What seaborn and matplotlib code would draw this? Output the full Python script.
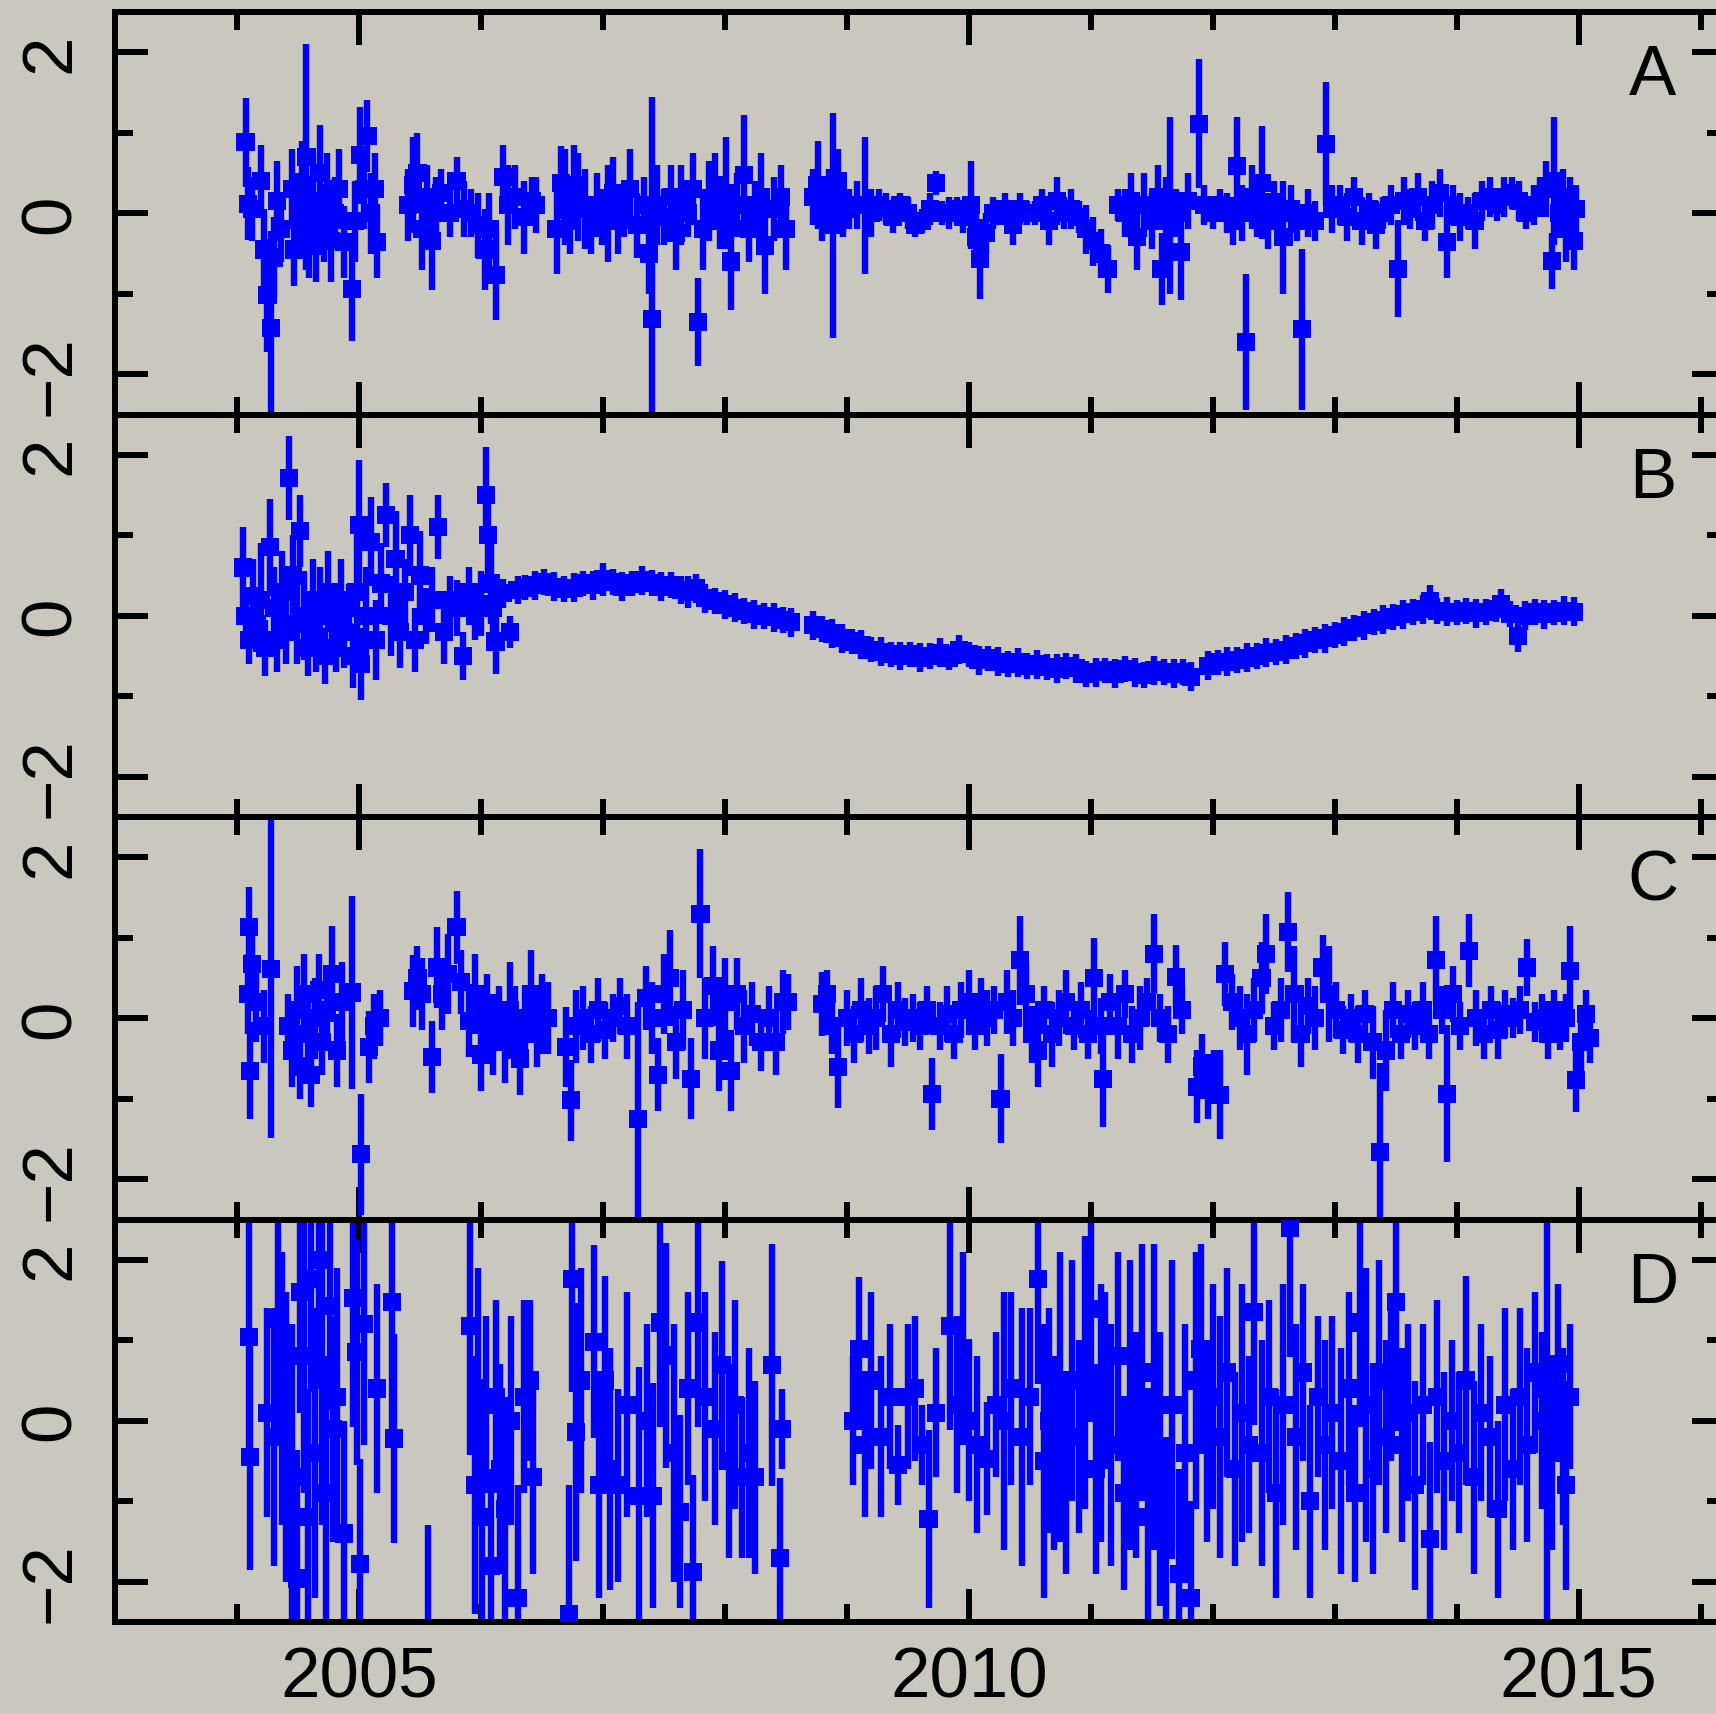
import pandas as pd
import matplotlib
matplotlib.use("Agg")
import matplotlib.pyplot as plt
from matplotlib.ticker import MultipleLocator
import seaborn as sns

# (year, value, error)
panel_a = [
    (2004.07, 0.88, 0.55), (2004.09, 0.12, 0.45), (2004.12, 0.05, 0.4), (2004.20, 0.40, 0.45),
    (2004.22, -0.45, 0.5), (2004.25, -1.02, 0.7), (2004.28, -1.42, 1.2), (2004.30, -0.55, 0.5),
    (2004.33, 0.15, 0.5), (2004.36, -0.2, 0.4), (2004.45, 0.30, 0.5), (2004.47, -0.45, 0.45),
    (2004.50, 0.0, 0.5), (2004.53, 0.35, 0.55), (2004.57, 0.70, 1.4), (2004.59, -0.3, 0.5),
    (2004.62, 0.15, 0.6), (2004.65, -0.4, 0.45), (2004.68, 0.5, 0.6), (2004.71, -0.2, 0.4),
    (2004.74, 0.25, 0.5), (2004.77, -0.35, 0.5), (2004.80, 0.0, 0.45), (2004.84, 0.3, 0.5),
    (2004.88, -0.36, 0.45), (2004.94, -0.94, 0.65), (2004.97, -0.1, 0.5), (2005.01, 0.72, 0.6),
    (2005.04, 0.3, 0.5), (2005.07, 0.96, 0.45), (2005.10, 0.0, 0.5), (2005.13, 0.30, 0.45),
    (2005.15, -0.36, 0.45),
    (2005.40, 0.1, 0.45), (2005.44, 0.35, 0.6), (2005.48, 0.5, 0.5), (2005.52, -0.2, 0.5),
    (2005.56, 0.2, 0.4), (2005.60, -0.35, 0.6), (2005.63, 0.0, 0.45), (2005.67, 0.25, 0.3),
    (2005.75, 0.0, 0.3), (2005.80, 0.4, 0.3), (2005.86, 0.05, 0.35), (2005.92, 0.0, 0.3),
    (2005.98, -0.15, 0.4), (2006.03, -0.45, 0.5), (2006.07, -0.2, 0.45), (2006.12, -0.77, 0.55),
    (2006.18, 0.45, 0.4), (2006.22, 0.1, 0.5), (2006.28, 0.2, 0.4), (2006.35, -0.05, 0.45),
    (2006.42, 0.15, 0.3), (2006.45, 0.1, 0.35),
    (2006.62, -0.2, 0.55), (2006.66, 0.38, 0.45), (2006.69, 0.2, 0.6), (2006.73, -0.1, 0.4),
    (2006.76, 0.35, 0.5), (2006.80, 0.2, 0.55), (2006.85, 0.05, 0.5), (2006.90, -0.15, 0.35),
    (2006.95, 0.1, 0.4), (2006.99, -0.05, 0.35), (2007.04, 0.0, 0.6), (2007.08, 0.25, 0.45),
    (2007.12, -0.1, 0.4), (2007.17, 0.0, 0.3), (2007.22, 0.3, 0.5), (2007.28, -0.15, 0.4),
    (2007.34, 0.1, 0.35), (2007.38, -0.5, 0.5), (2007.40, -1.31, 2.75), (2007.44, 0.1, 0.5),
    (2007.50, -0.05, 0.35), (2007.56, 0.2, 0.4), (2007.60, -0.25, 0.45), (2007.64, 0.1, 0.5),
    (2007.70, 0.0, 0.3), (2007.74, 0.3, 0.45), (2007.78, -1.35, 0.55), (2007.82, -0.2, 0.5),
    (2007.87, 0.15, 0.5), (2007.92, 0.35, 0.4), (2007.96, -0.1, 0.35), (2008.01, 0.25, 0.7),
    (2008.05, -0.6, 0.6), (2008.10, 0.1, 0.4), (2008.16, 0.47, 0.75), (2008.20, -0.2, 0.4),
    (2008.25, 0.1, 0.3), (2008.30, 0.2, 0.55), (2008.33, -0.4, 0.6), (2008.40, 0.05, 0.4),
    (2008.46, 0.2, 0.4), (2008.50, -0.2, 0.5),
    (2008.72, 0.2, 0.35), (2008.76, 0.35, 0.55), (2008.80, 0.05, 0.4), (2008.85, 0.15, 0.4),
    (2008.89, -0.15, 1.4), (2008.93, 0.4, 0.4), (2008.97, 0.0, 0.3), (2009.02, 0.05, 0.25),
    (2009.08, 0.1, 0.3), (2009.15, 0.1, 0.85), (2009.20, 0.0, 0.3), (2009.26, 0.1, 0.2),
    (2009.32, 0.05, 0.2), (2009.38, -0.05, 0.2), (2009.44, 0.1, 0.15), (2009.50, 0.0, 0.2),
    (2009.56, -0.15, 0.15), (2009.62, -0.1, 0.15), (2009.68, 0.05, 0.2), (2009.73, 0.38, 0.15),
    (2009.78, 0.0, 0.15), (2009.84, 0.0, 0.2), (2009.90, 0.05, 0.15), (2009.95, -0.05, 0.2),
    (2010.02, 0.1, 0.55), (2010.06, -0.3, 0.3), (2010.09, -0.57, 0.5), (2010.14, -0.25, 0.25),
    (2010.20, 0.0, 0.2), (2010.25, 0.0, 0.15), (2010.30, 0.05, 0.2), (2010.36, -0.15, 0.25),
    (2010.42, 0.05, 0.2), (2010.48, 0.0, 0.15), (2010.54, 0.0, 0.15), (2010.60, 0.1, 0.2),
    (2010.66, -0.1, 0.3), (2010.72, 0.15, 0.3), (2010.78, 0.0, 0.2), (2010.84, 0.05, 0.25),
    (2010.90, -0.05, 0.2), (2010.96, -0.2, 0.3), (2011.02, -0.35, 0.3), (2011.08, -0.5, 0.3),
    (2011.14, -0.69, 0.3),
    (2011.22, 0.1, 0.2), (2011.28, 0.0, 0.3), (2011.33, 0.15, 0.35), (2011.38, -0.3, 0.4),
    (2011.44, 0.1, 0.4), (2011.50, -0.1, 0.35), (2011.55, 0.2, 0.4), (2011.58, -0.69, 0.45),
    (2011.62, -0.1, 0.55), (2011.65, 0.1, 1.1), (2011.70, 0.0, 0.3), (2011.74, -0.48, 0.6),
    (2011.80, 0.15, 0.35), (2011.89, 1.11, 0.8), (2011.93, 0.1, 0.25), (2012.00, 0.0, 0.2),
    (2012.06, 0.1, 0.2), (2012.12, 0.0, 0.25), (2012.17, -0.1, 0.3), (2012.20, 0.59, 0.6),
    (2012.24, 0.0, 0.35), (2012.27, -1.6, 0.85), (2012.32, 0.2, 0.4), (2012.36, 0.0, 0.3),
    (2012.40, 0.38, 0.7), (2012.45, -0.1, 0.35), (2012.50, 0.1, 0.3), (2012.55, 0.0, 0.25),
    (2012.58, -0.3, 0.7), (2012.64, 0.05, 0.3), (2012.69, -0.1, 0.25), (2012.73, -1.44, 1.0),
    (2012.78, 0.0, 0.3), (2012.84, -0.1, 0.25), (2012.93, 0.86, 0.77), (2012.98, 0.05, 0.3),
    (2013.04, 0.1, 0.25), (2013.10, -0.05, 0.3), (2013.16, 0.2, 0.25), (2013.22, -0.1, 0.3),
    (2013.28, 0.05, 0.2), (2013.34, -0.15, 0.3), (2013.40, 0.0, 0.2), (2013.46, 0.1, 0.25),
    (2013.52, -0.69, 0.6), (2013.57, 0.15, 0.3), (2013.62, 0.05, 0.25), (2013.68, 0.2, 0.3),
    (2013.74, -0.1, 0.25), (2013.80, 0.1, 0.3), (2013.86, 0.25, 0.3), (2013.92, -0.36, 0.45),
    (2013.97, 0.1, 0.25), (2014.03, -0.05, 0.3), (2014.09, 0.0, 0.2), (2014.15, -0.1, 0.35),
    (2014.21, 0.15, 0.25), (2014.27, 0.2, 0.25), (2014.33, 0.1, 0.2), (2014.39, 0.2, 0.25),
    (2014.45, 0.25, 0.2), (2014.51, 0.15, 0.25), (2014.57, 0.0, 0.2), (2014.63, 0.1, 0.25),
    (2014.68, 0.2, 0.25), (2014.73, 0.3, 0.35), (2014.78, -0.59, 0.35), (2014.80, 0.4, 0.8),
    (2014.84, 0.0, 0.3), (2014.87, 0.2, 0.35), (2014.90, -0.2, 0.4), (2014.93, 0.1, 0.35),
    (2014.96, -0.35, 0.35), (2014.98, 0.05, 0.3),
]

panel_b = [
    (2004.05, 0.6, 0.5), (2004.07, 0.0, 0.35), (2004.10, -0.3, 0.3), (2004.13, 0.25, 0.45),
    (2004.16, -0.1, 0.35), (2004.20, 0.2, 0.7), (2004.23, -0.4, 0.35), (2004.27, 0.85, 0.6),
    (2004.30, 0.1, 0.5), (2004.33, -0.3, 0.4), (2004.37, 0.3, 0.5), (2004.40, -0.2, 0.4),
    (2004.43, 1.71, 0.52), (2004.46, 0.5, 0.5), (2004.49, -0.1, 0.5), (2004.52, 1.05, 0.45),
    (2004.55, 0.0, 0.55), (2004.58, -0.4, 0.35), (2004.62, 0.2, 0.5), (2004.65, -0.3, 0.4),
    (2004.68, 0.15, 0.45), (2004.72, -0.5, 0.35), (2004.75, 0.3, 0.5), (2004.78, 0.0, 0.4),
    (2004.81, -0.4, 0.3), (2004.85, 0.2, 0.5), (2004.88, -0.2, 0.45), (2004.92, 0.1, 0.3),
    (2004.95, -0.5, 0.4), (2004.98, 0.3, 0.8), (2005.00, 1.13, 0.8), (2005.02, -0.6, 0.45),
    (2005.06, 0.0, 0.6), (2005.10, 0.92, 0.55), (2005.14, -0.3, 0.5), (2005.18, 0.4, 0.5),
    (2005.22, 1.25, 0.4), (2005.26, 0.0, 0.5), (2005.30, 0.7, 0.6), (2005.34, -0.2, 0.45),
    (2005.38, 0.3, 0.4), (2005.42, 1.0, 0.5), (2005.46, -0.3, 0.4), (2005.50, 0.5, 0.55),
    (2005.55, 0.0, 0.35), (2005.60, 0.2, 0.4), (2005.65, 1.1, 0.4), (2005.70, -0.2, 0.4),
    (2005.75, 0.2, 0.3), (2005.80, 0.1, 0.35), (2005.85, -0.5, 0.3), (2005.90, 0.3, 0.3),
    (2005.95, 0.0, 0.3), (2006.00, 0.15, 0.4), (2006.04, 1.5, 0.6), (2006.06, 1.0, 0.5),
    (2006.08, 0.4, 0.5), (2006.10, 0.1, 0.4), (2006.12, -0.32, 0.4),
    (2006.18, 0.28, 0.18), (2006.24, -0.2, 0.2), (2006.30, 0.32, 0.18), (2006.36, 0.35, 0.16),
    (2006.44, 0.38, 0.18), (2006.52, 0.42, 0.16), (2006.60, 0.36, 0.18), (2006.68, 0.33, 0.16),
    (2006.76, 0.35, 0.18), (2006.84, 0.40, 0.16), (2006.92, 0.38, 0.18), (2007.00, 0.45, 0.2),
    (2007.08, 0.42, 0.16), (2007.16, 0.36, 0.18), (2007.24, 0.40, 0.16), (2007.32, 0.44, 0.18),
    (2007.40, 0.41, 0.16), (2007.48, 0.36, 0.18), (2007.56, 0.38, 0.16), (2007.64, 0.32, 0.18),
    (2007.70, 0.30, 0.2), (2007.76, 0.34, 0.18), (2007.84, 0.22, 0.18), (2007.92, 0.18, 0.16),
    (2008.00, 0.14, 0.18), (2008.08, 0.10, 0.18), (2008.16, 0.06, 0.16), (2008.24, 0.02, 0.18),
    (2008.32, 0.00, 0.16), (2008.40, -0.02, 0.18), (2008.48, -0.05, 0.16), (2008.54, -0.08, 0.18),
    (2008.72, -0.12, 0.18), (2008.80, -0.16, 0.16), (2008.88, -0.22, 0.18), (2008.96, -0.28, 0.18),
    (2009.04, -0.32, 0.16), (2009.12, -0.36, 0.18), (2009.20, -0.42, 0.16), (2009.28, -0.45, 0.18),
    (2009.36, -0.48, 0.16), (2009.44, -0.50, 0.18), (2009.52, -0.48, 0.16), (2009.60, -0.52, 0.18),
    (2009.68, -0.50, 0.16), (2009.76, -0.46, 0.18), (2009.84, -0.52, 0.16), (2009.92, -0.42, 0.18),
    (2010.00, -0.48, 0.16), (2010.08, -0.55, 0.18), (2010.16, -0.53, 0.16), (2010.24, -0.57, 0.18),
    (2010.32, -0.60, 0.16), (2010.40, -0.58, 0.18), (2010.48, -0.62, 0.16), (2010.56, -0.60, 0.18),
    (2010.64, -0.64, 0.16), (2010.72, -0.66, 0.18), (2010.80, -0.62, 0.16), (2010.88, -0.65, 0.18),
    (2010.96, -0.72, 0.16), (2011.04, -0.70, 0.18), (2011.12, -0.68, 0.16), (2011.20, -0.72, 0.18),
    (2011.28, -0.66, 0.16), (2011.36, -0.70, 0.18), (2011.44, -0.74, 0.16), (2011.52, -0.68, 0.18),
    (2011.60, -0.70, 0.16), (2011.68, -0.72, 0.18), (2011.76, -0.70, 0.16), (2011.82, -0.76, 0.18),
    (2011.96, -0.62, 0.18), (2012.04, -0.58, 0.16), (2012.12, -0.57, 0.18), (2012.20, -0.55, 0.16),
    (2012.28, -0.52, 0.18), (2012.36, -0.50, 0.16), (2012.44, -0.46, 0.18), (2012.52, -0.45, 0.16),
    (2012.60, -0.42, 0.18), (2012.68, -0.38, 0.16), (2012.76, -0.34, 0.18), (2012.84, -0.30, 0.16),
    (2012.92, -0.28, 0.18), (2013.00, -0.24, 0.16), (2013.08, -0.20, 0.18), (2013.16, -0.15, 0.16),
    (2013.24, -0.12, 0.18), (2013.32, -0.08, 0.16), (2013.40, -0.05, 0.18), (2013.48, -0.02, 0.16),
    (2013.56, 0.02, 0.18), (2013.64, 0.05, 0.16), (2013.72, 0.08, 0.18), (2013.78, 0.18, 0.2),
    (2013.84, 0.06, 0.16), (2013.92, 0.05, 0.18), (2014.00, 0.04, 0.16), (2014.08, 0.06, 0.16),
    (2014.16, 0.03, 0.18), (2014.24, 0.05, 0.16), (2014.32, 0.08, 0.16), (2014.36, 0.15, 0.18),
    (2014.44, 0.02, 0.16), (2014.50, -0.25, 0.2), (2014.56, 0.0, 0.18), (2014.64, 0.05, 0.16),
    (2014.72, 0.02, 0.18), (2014.80, 0.04, 0.16), (2014.88, 0.06, 0.18), (2014.96, 0.05, 0.18),
]

panel_c = [
    (2004.09, 0.3, 0.5), (2004.10, 1.13, 0.5), (2004.11, -0.65, 0.6), (2004.12, 0.67, 0.5),
    (2004.16, 0.2, 0.5), (2004.22, -0.1, 0.45), (2004.28, 0.61, 2.1), (2004.42, -0.1, 0.4),
    (2004.45, -0.4, 0.45), (2004.49, 0.1, 0.55), (2004.52, -0.6, 0.4), (2004.55, 0.3, 0.5),
    (2004.58, -0.2, 0.5), (2004.61, -0.7, 0.4), (2004.64, 0.0, 0.5), (2004.67, 0.35, 0.45),
    (2004.70, -0.3, 0.4), (2004.74, 0.1, 0.45), (2004.78, 0.55, 0.6), (2004.82, -0.4, 0.45),
    (2004.86, 0.2, 0.5), (2004.94, 0.32, 1.2), (2005.02, -1.69, 0.75), (2005.08, -0.36, 0.45),
    (2005.12, -0.1, 0.4), (2005.17, 0.0, 0.35),
    (2005.44, 0.34, 0.45), (2005.48, 0.5, 0.4), (2005.52, 0.3, 0.45), (2005.60, -0.48, 0.45),
    (2005.64, 0.63, 0.5), (2005.68, 0.3, 0.45), (2005.73, 0.55, 0.5), (2005.80, 1.13, 0.45),
    (2005.84, 0.45, 0.4), (2005.90, -0.03, 0.45), (2005.95, 0.3, 0.5), (2006.00, -0.45, 0.45),
    (2006.05, 0.1, 0.45), (2006.10, -0.2, 0.5), (2006.15, 0.0, 0.4), (2006.20, -0.3, 0.5),
    (2006.24, 0.1, 0.6), (2006.28, -0.1, 0.5), (2006.32, -0.5, 0.45), (2006.36, 0.0, 0.4),
    (2006.41, 0.3, 0.55), (2006.46, -0.2, 0.4), (2006.50, 0.05, 0.5), (2006.55, 0.0, 0.45),
    (2006.70, -0.36, 0.5), (2006.74, -1.02, 0.5), (2006.78, -0.1, 0.45), (2006.84, 0.0, 0.4),
    (2006.90, -0.2, 0.35), (2006.96, 0.1, 0.4), (2007.02, -0.15, 0.35), (2007.08, 0.0, 0.3),
    (2007.14, 0.15, 0.35), (2007.20, -0.1, 0.4), (2007.29, -1.25, 1.45), (2007.35, 0.25, 0.4),
    (2007.40, 0.0, 0.45), (2007.45, -0.7, 0.45), (2007.50, 0.3, 0.5), (2007.55, 0.5, 0.6),
    (2007.60, -0.3, 0.45), (2007.66, 0.1, 0.5), (2007.72, -0.75, 0.5), (2007.80, 1.30, 0.8),
    (2007.84, 0.0, 0.5), (2007.90, 0.4, 0.5), (2007.95, -0.4, 0.5), (2008.00, 0.2, 0.55),
    (2008.05, -0.65, 0.5), (2008.10, 0.3, 0.45), (2008.16, -0.1, 0.45), (2008.22, 0.05, 0.4),
    (2008.30, -0.3, 0.35), (2008.36, 0.0, 0.4), (2008.42, -0.3, 0.4), (2008.48, 0.2, 0.4),
    (2008.52, 0.2, 0.35),
    (2008.80, 0.18, 0.4), (2008.84, 0.3, 0.3), (2008.88, -0.1, 0.35), (2008.93, -0.61, 0.5),
    (2009.00, 0.0, 0.35), (2009.06, -0.2, 0.35), (2009.12, 0.1, 0.4), (2009.18, -0.1, 0.35),
    (2009.24, 0.0, 0.4), (2009.30, 0.3, 0.35), (2009.36, -0.2, 0.4), (2009.42, 0.1, 0.35),
    (2009.48, -0.05, 0.3), (2009.54, 0.0, 0.3), (2009.60, -0.1, 0.3), (2009.66, 0.1, 0.3),
    (2009.70, -0.94, 0.45), (2009.76, -0.1, 0.3), (2009.82, 0.05, 0.35), (2009.88, -0.2, 0.3),
    (2009.94, 0.1, 0.35), (2010.00, 0.2, 0.4), (2010.05, -0.1, 0.3), (2010.10, 0.2, 0.3),
    (2010.15, 0.0, 0.35), (2010.21, 0.1, 0.3), (2010.26, -1.0, 0.55), (2010.31, 0.2, 0.4),
    (2010.36, 0.0, 0.35), (2010.42, 0.72, 0.55), (2010.47, 0.3, 0.4), (2010.52, -0.2, 0.35),
    (2010.57, -0.4, 0.45), (2010.62, 0.1, 0.3), (2010.68, -0.2, 0.4), (2010.74, 0.0, 0.35),
    (2010.80, 0.2, 0.4), (2010.86, -0.1, 0.3), (2010.92, 0.1, 0.35), (2010.98, -0.2, 0.3),
    (2011.03, 0.5, 0.5), (2011.08, -0.1, 0.35), (2011.10, -0.75, 0.6), (2011.16, 0.2, 0.35),
    (2011.22, -0.1, 0.4), (2011.28, 0.3, 0.3), (2011.34, -0.2, 0.35), (2011.40, 0.0, 0.4),
    (2011.46, 0.2, 0.3), (2011.52, 0.80, 0.5), (2011.57, 0.0, 0.3), (2011.63, -0.2, 0.35),
    (2011.70, 0.51, 0.4), (2011.75, 0.1, 0.3), (2011.87, -0.85, 0.45), (2011.91, -0.60, 0.4),
    (2011.96, -0.85, 0.4), (2012.01, -0.70, 0.3), (2012.06, -0.95, 0.55), (2012.10, 0.55, 0.4),
    (2012.16, 0.2, 0.35), (2012.22, 0.0, 0.4), (2012.28, -0.2, 0.5), (2012.34, 0.1, 0.4),
    (2012.40, 0.5, 0.45), (2012.44, 0.80, 0.5), (2012.50, -0.1, 0.3), (2012.56, 0.1, 0.4),
    (2012.62, 1.07, 0.5), (2012.67, 0.3, 0.6), (2012.72, -0.2, 0.4), (2012.78, 0.15, 0.35),
    (2012.84, 0.0, 0.4), (2012.90, 0.63, 0.4), (2012.95, 0.3, 0.6), (2013.01, 0.1, 0.35),
    (2013.07, -0.15, 0.3), (2013.13, 0.0, 0.3), (2013.19, -0.2, 0.35), (2013.25, 0.05, 0.3),
    (2013.31, -0.3, 0.45), (2013.37, -1.66, 1.1), (2013.42, -0.4, 0.5), (2013.48, 0.1, 0.35),
    (2013.54, -0.2, 0.3), (2013.60, 0.05, 0.3), (2013.66, -0.1, 0.3), (2013.72, 0.1, 0.35),
    (2013.77, -0.2, 0.3), (2013.83, 0.72, 0.55), (2013.88, 0.1, 0.3), (2013.92, -0.94, 0.85),
    (2013.97, 0.3, 0.35), (2014.03, -0.1, 0.3), (2014.10, 0.84, 0.45), (2014.16, 0.0, 0.35),
    (2014.22, -0.2, 0.3), (2014.28, 0.1, 0.3), (2014.34, -0.15, 0.35), (2014.40, 0.05, 0.3),
    (2014.46, 0.0, 0.25), (2014.52, 0.1, 0.3), (2014.58, 0.63, 0.35), (2014.64, -0.05, 0.25),
    (2014.70, 0.0, 0.3), (2014.75, -0.2, 0.3), (2014.80, 0.1, 0.25), (2014.85, -0.1, 0.3),
    (2014.90, 0.0, 0.3), (2014.93, 0.59, 0.55), (2014.98, -0.77, 0.4), (2015.02, -0.3, 0.35),
    (2015.06, 0.05, 0.3), (2015.09, -0.25, 0.3),
]

panel_d = [
    (2004.10, 1.04, 1.6), (2004.11, -0.45, 1.4), (2004.25, 0.1, 1.3), (2004.30, -0.2, 1.6),
    (2004.34, 1.27, 1.5), (2004.37, 0.4, 1.7), (2004.40, -0.2, 1.8), (2004.45, -0.7, 1.9),
    (2004.49, -1.96, 1.6), (2004.52, 1.6, 1.5), (2004.55, 0.8, 1.7), (2004.58, -1.2, 1.6),
    (2004.61, 1.76, 1.4), (2004.64, -0.4, 1.8), (2004.67, 2.0, 1.6), (2004.70, 0.6, 1.9),
    (2004.73, -0.9, 1.7), (2004.76, 1.43, 1.3), (2004.79, -0.1, 1.4), (2004.82, 0.3, 1.6),
    (2004.88, -1.4, 1.4), (2004.95, 1.52, 1.6), (2004.98, 0.85, 1.4), (2005.01, -1.78, 1.3),
    (2005.04, 1.2, 1.5), (2005.15, 0.4, 1.3), (2005.27, 1.47, 1.6), (2005.29, -0.22, 1.3),
    (2005.57, -2.9, 1.6),
    (2005.91, 1.18, 1.6), (2005.95, -0.8, 1.6), (2005.98, 0.4, 1.5), (2006.01, -1.2, 1.4),
    (2006.04, 0.2, 1.1), (2006.08, -1.8, 1.2), (2006.12, 0.3, 1.2), (2006.16, -0.6, 1.3),
    (2006.20, -1.1, 1.4), (2006.25, 0.0, 1.3), (2006.30, -2.2, 1.4), (2006.35, 0.3, 1.2),
    (2006.40, 0.5, 1.0), (2006.43, -0.7, 1.2),
    (2006.72, -2.4, 1.6), (2006.75, 1.76, 1.4), (2006.78, -0.14, 1.6), (2006.82, 0.5, 1.4),
    (2006.93, 0.98, 1.2), (2006.97, -0.8, 1.4), (2007.02, 0.5, 1.3), (2007.06, -0.6, 1.5),
    (2007.12, -0.8, 1.2), (2007.20, 0.2, 1.4), (2007.30, -0.93, 1.6), (2007.36, 0.0, 1.2),
    (2007.41, -0.93, 1.4), (2007.47, 1.22, 1.3), (2007.52, 0.81, 1.4), (2007.58, -0.4, 1.6),
    (2007.63, -1.13, 1.2), (2007.70, 0.4, 1.2), (2007.74, -1.88, 1.2), (2007.78, 1.22, 1.3),
    (2007.84, 0.3, 1.3), (2007.92, -0.1, 1.2), (2007.98, 0.69, 1.3), (2008.03, -0.5, 1.2),
    (2008.08, 0.2, 1.3), (2008.14, -0.7, 1.0), (2008.20, -0.4, 1.3), (2008.25, -0.7, 1.2),
    (2008.39, 0.69, 1.5), (2008.45, -1.71, 1.0), (2008.47, -0.1, 0.5),
    (2009.05, 0.0, 0.8), (2009.10, 0.89, 0.9), (2009.15, -0.3, 0.9), (2009.20, 0.5, 1.1),
    (2009.28, -0.2, 1.0), (2009.35, 0.3, 0.9), (2009.42, -0.55, 0.5), (2009.50, 0.3, 0.9),
    (2009.56, 0.4, 0.9), (2009.62, -0.3, 0.5), (2009.67, -1.22, 1.1), (2009.73, 0.1, 0.8),
    (2009.85, 1.18, 1.3), (2009.90, 0.2, 1.1), (2009.95, 0.9, 1.2), (2010.00, 0.0, 1.0),
    (2010.07, -0.3, 1.1), (2010.15, -0.47, 0.7), (2010.22, 0.2, 0.9), (2010.29, 0.0, 1.6),
    (2010.35, 0.4, 1.2), (2010.44, -0.2, 1.6), (2010.50, 0.3, 1.1), (2010.57, 1.76, 1.3),
    (2010.62, -0.5, 1.7), (2010.66, 0.0, 1.4), (2010.70, -0.4, 1.2), (2010.75, 0.3, 1.8),
    (2010.80, -0.8, 1.1), (2010.85, 0.5, 1.5), (2010.90, -0.2, 1.2), (2010.95, 0.6, 1.7),
    (2011.00, 1.39, 1.4), (2011.04, -0.6, 1.3), (2011.08, 0.1, 1.6), (2011.12, 0.5, 1.1),
    (2011.17, -0.3, 1.5), (2011.22, 0.8, 1.3), (2011.27, -0.9, 1.2), (2011.32, 0.2, 1.8),
    (2011.37, -0.3, 1.4), (2011.42, 0.6, 1.6), (2011.47, -1.2, 1.5), (2011.52, 0.3, 1.9),
    (2011.57, -0.6, 1.7), (2011.62, -1.6, 1.4), (2011.67, 0.2, 1.8), (2011.72, -1.9, 1.3),
    (2011.77, -0.4, 1.6), (2011.82, -2.2, 1.2), (2011.86, 0.5, 1.6), (2011.90, 0.89, 1.3),
    (2011.95, -0.3, 1.2), (2012.00, 0.3, 1.4), (2012.06, -0.2, 1.5), (2012.12, 0.6, 1.3),
    (2012.18, -0.6, 1.2), (2012.24, 0.1, 1.6), (2012.30, -0.3, 1.1), (2012.34, 1.35, 1.4),
    (2012.40, -0.4, 1.4), (2012.46, 0.3, 1.2), (2012.52, -0.9, 1.3), (2012.58, 0.2, 1.5),
    (2012.63, 2.39, 1.6), (2012.68, -0.2, 1.4), (2012.74, 0.6, 1.1), (2012.80, -1.0, 1.2),
    (2012.86, 0.3, 1.0), (2012.92, -0.3, 1.3), (2012.98, 0.1, 1.2), (2013.05, -0.5, 1.4),
    (2013.12, 0.4, 1.2), (2013.17, -0.9, 1.1), (2013.21, 1.22, 1.3), (2013.26, 0.2, 1.7),
    (2013.31, -0.6, 1.3), (2013.36, 0.6, 1.4), (2013.42, -0.2, 1.2), (2013.46, 0.5, 1.0),
    (2013.50, 1.47, 1.6), (2013.55, -0.3, 1.2), (2013.60, 0.1, 1.1), (2013.66, -0.8, 1.3),
    (2013.72, 0.2, 1.0), (2013.78, -1.47, 1.2), (2013.84, 0.3, 1.2), (2013.90, -0.5, 1.1),
    (2013.96, 0.0, 1.0), (2014.02, -0.4, 1.0), (2014.08, 0.5, 1.3), (2014.14, -0.7, 1.2),
    (2014.20, 0.1, 1.1), (2014.27, -0.2, 1.0), (2014.34, -1.1, 1.1), (2014.40, 0.2, 1.2),
    (2014.46, -0.6, 1.0), (2014.52, 0.3, 1.1), (2014.58, -0.3, 1.2), (2014.64, 0.6, 1.0),
    (2014.70, 0.0, 1.1), (2014.74, 0.4, 3.0), (2014.78, -0.4, 1.2), (2014.83, 0.7, 1.0),
    (2014.87, -0.2, 1.1), (2014.90, -0.8, 1.3), (2014.93, 0.3, 0.9),
]

panel_names = ["A", "B", "C", "D"]
x_ticklabels = ["2005", "2010", "2015"]
y_ticklabels = ["2", "0", "\u22122"]

bg = "#cac7bf"
sns.set_style("ticks")
plt.rcParams["font.family"] = ["Liberation Sans", "DejaVu Sans"]
plt.rcParams["text.color"] = "black"
plt.rcParams["xtick.color"] = "black"
plt.rcParams["ytick.color"] = "black"
plt.rcParams["xtick.labelcolor"] = "black"
plt.rcParams["ytick.labelcolor"] = "black"

fig = plt.figure(figsize=(17.16, 17.15), dpi=100, facecolor=bg)

W, H = 1716, 1715
left_px, right_px, top_px, bot_px = 115, 1725, 13, 1623
ph = (bot_px - top_px) / 4

for i, (name, rows) in enumerate(zip(panel_names, [panel_a, panel_b, panel_c, panel_d])):
    df = pd.DataFrame(rows, columns=["year", "value", "err"])
    y0 = top_px + ph * (i + 1)
    ax = fig.add_axes([left_px / W, 1 - y0 / H, (right_px - left_px) / W, ph / H])
    ax.set_facecolor(bg)

    ax.errorbar(df["year"], df["value"], yerr=df["err"], fmt="none",
                ecolor="#0000ff", elinewidth=4.6, capsize=0, zorder=2)
    sns.scatterplot(data=df, x="year", y="value", marker="s", s=170,
                    color="#0000ff", edgecolor="none", linewidth=0, ax=ax, zorder=3)

    ax.set_xlim(2003, 2016.2)
    ax.set_ylim(-2.5, 2.5)
    ax.set_xlabel("")
    ax.set_ylabel("")

    ax.xaxis.set_major_locator(MultipleLocator(5))
    ax.xaxis.set_minor_locator(MultipleLocator(1))
    ax.yaxis.set_major_locator(MultipleLocator(2))
    ax.yaxis.set_minor_locator(MultipleLocator(1))
    ax.tick_params(which="both", direction="in", top=True, right=True,
                   width=4.3, color="black", labelcolor="black")
    ax.tick_params(which="major", length=24)
    ax.tick_params(which="minor", length=13)

    ax.set_yticks([2, 0, -2])
    ax.set_yticklabels(y_ticklabels, rotation=90, va="center", fontsize=51)
    ax.tick_params(axis="y", pad=22)

    if i == 3:
        ax.set_xticks([2005, 2010, 2015])
        ax.set_xticklabels(x_ticklabels, fontsize=51)
        ax.tick_params(axis="x", pad=17)
    else:
        ax.tick_params(axis="x", labelbottom=False)

    for sp in ax.spines.values():
        sp.set_linewidth(4.3)
        sp.set_color("black")

    ax.text(0.955, 0.84, name, transform=ax.transAxes, fontsize=51,
            ha="center", va="center", color="black")

fig.savefig("out.png", dpi=100, facecolor=bg)
